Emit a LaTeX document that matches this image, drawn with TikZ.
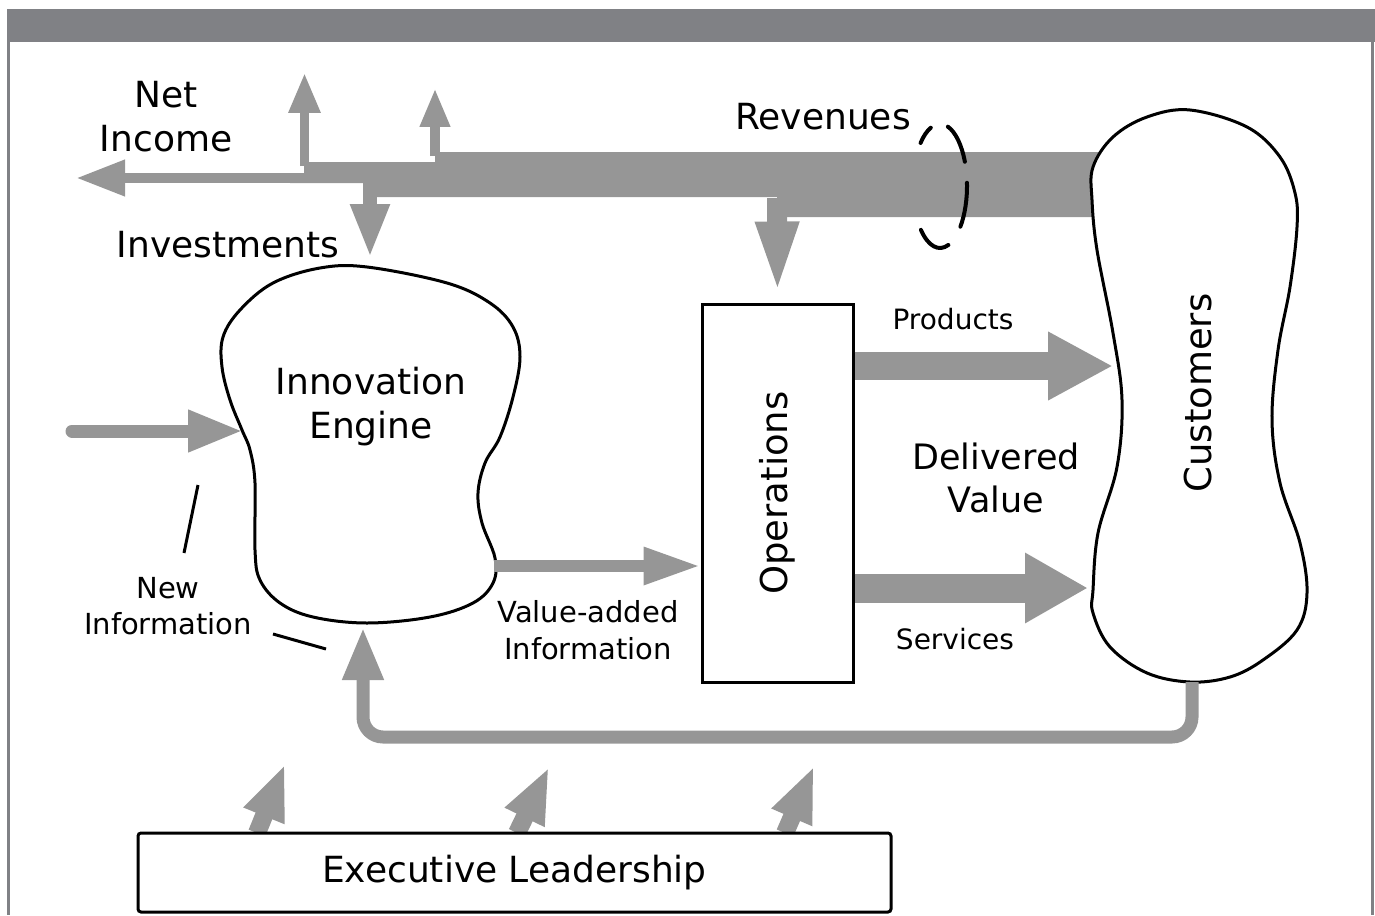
\documentclass[tikz,border=0pt]{standalone}
\usepackage{fontspec}
\usepackage{graphicx}
\setmainfont{DejaVu Sans}
\usetikzlibrary{arrows.meta,calc}
\definecolor{flowgray}{RGB}{150,150,150}
\definecolor{bargray}{RGB}{128,129,133}
\begin{document}
\begin{tikzpicture}[x=1pt,y=-1pt]
  \tikzstyle{blob}=[draw=black,line width=3pt,fill=white]
  \tikzstyle{boxed}=[draw=black,line width=3pt,fill=white,inner sep=0pt]
  \tikzstyle{biglab}=[font=\fontsize{36}{44}\selectfont,align=center,inner sep=0pt]
  \tikzstyle{midlab}=[font=\fontsize{29}{36.5}\selectfont,align=center,inner sep=0pt]
  \tikzstyle{smalllab}=[font=\fontsize{28}{34}\selectfont,inner sep=0pt]
  \tikzstyle{flow}=[draw=flowgray]
  \tikzstyle{pointer}=[draw=black,line width=3pt]
  \tikzstyle{dashring}=[draw=black,line width=4pt,line cap=round]
  \useasboundingbox (0,0) rectangle (1375,915);
  \fill[bargray] (7,9) rectangle (1375,42);
  \draw[bargray,line width=3pt] (8.5,42) -- (8.5,915);
  \draw[bargray,line width=3pt] (1372.5,42) -- (1372.5,915);

  % revenue stream
  \fill[flowgray] (1100,152) -- (435,152) -- (435,162) -- (304,162) -- (304,173)
    -- (290,173) -- (290,183) -- (363,183) -- (363,197) -- (777,197) -- (777,217)
    -- (1100,217) -- cycle;
  \coordinate (up1) at (304.5,73);
  \coordinate (up2) at (435,88);
  \coordinate (ni) at (76,178);
  \coordinate (ieN) at (370,258);
  \draw[flow,line width=9pt,-{Triangle[length=40pt,width=30pt]}] (304.5,166) -- (up1);
  \draw[flow,line width=10pt,-{Triangle[length=39pt,width=28pt]}] (435,156) -- (up2);
  \draw[flow,line width=10pt,-{Triangle[length=49pt,width=34pt]}] (296,178) -- (ni);
  \draw[flow,line width=14pt,-{Triangle[length=54pt,width=36pt]}] (370,186) -- (ieN);

  \node[biglab] (netinc) at (166,117) {Net\\Income};
  \node[biglab] (invest) at (228,245) {Investments};
  \node[biglab] (revenue) at (823,117) {Revenues};

  \coordinate (ring) at (940,186);
  \draw[dashring] ($(ring)+(136:27pt and 62pt)$) arc[start angle=136,end angle=110,x radius=27pt,y radius=62pt];
  \draw[dashring] ($(ring)+(73:27pt and 62pt)$) arc[start angle=73,end angle=23,x radius=27pt,y radius=62pt];
  \draw[dashring] ($(ring)+(3:27pt and 62pt)$) arc[start angle=3,end angle=-41,x radius=27pt,y radius=62pt];
  \draw[dashring] ($(ring)+(-135:27pt and 62pt)$) arc[start angle=-135,end angle=-72,x radius=27pt,y radius=62pt];

  % innovation engine
  \draw[blob] plot[smooth cycle,tension=0.6] coordinates {(367,267) (447,283) (490,303)
    (513,327) (520,357) (513,397) (500,437) (485,463) (478,493) (482,523) (495,558)
    (493,583) (473,603) (430,617) (367,623) (313,617) (280,603) (260,580) (255,550)
    (255,483) (250,450) (242,430) (230,400) (222,367) (223,337) (240,310) (273,283)
    (320,268)};
  \node[biglab] (innov) at (371,407) {Innovation\\Engine};
  \coordinate (ieW) at (243,431);
  \coordinate (ieE) at (494,566);
  \coordinate (ieS) at (363,627);

  % customers
  \draw[blob] plot[smooth cycle,tension=0.6] coordinates {(1190,110) (1247,127) (1280,157)
    (1295,193) (1297,227) (1290,287) (1278,350) (1272,420) (1280,483) (1300,543)
    (1307,593) (1297,630) (1263,660) (1230,677) (1190,682) (1147,673) (1110,647)
    (1093,613) (1093,590) (1098,533) (1117,467) (1122,400) (1113,333) (1097,250)
    (1092,200) (1093,167) (1113,137) (1147,117)};
  \node[biglab,rotate=90,font=\fontsize{37}{44}\selectfont] (cust) at (1198,393) {Customers};
  \coordinate (cuP) at (1113,366);
  \coordinate (cuV) at (1088,588);
  \coordinate (cuS) at (1192,682);

  % operations
  \node[boxed,minimum width=151pt,minimum height=378pt,font=\fontsize{37}{44}\selectfont] (ops) at (777.5,493) {\rotatebox{90}{Operations}};
  \draw[flow,line width=20pt,-{Triangle[length=75pt,width=38pt]}] (777,198) -- ([yshift=6pt]ops.north);
  \draw[flow,line width=12pt,-{Triangle[length=57pt,width=35pt]}] (ieE) -- (ieE -| ops.west);
  \draw[flow,line width=28pt,-{Triangle[length=65pt,width=64pt]}] (cuP -| ops.east) -- (cuP);
  \draw[flow,line width=29pt,-{Triangle[length=63pt,width=66pt]}] (cuV -| ops.east) -- (cuV);
  \node[smalllab] (prod) at (953,319) {Products};
  \node[smalllab] (serv) at (955,639) {Services};
  \node[biglab,font=\fontsize{35}{43}\selectfont] (delval) at (996,478) {Delivered\\Value};
  \node[midlab] (vainfo) at (588,630) {Value-added\\Information};

  % new information
  \coordinate (nisrc) at (72,431);
  \draw[flow,line width=13pt,line cap=round,-{Triangle[length=55pt,width=39pt]}] (nisrc) -- (ieW);
  \node[midlab] (newinfo) at (168,606) {New\\Information};
  \coordinate (ptA) at (198,485);
  \coordinate (ptB) at (184,553);
  \coordinate (ptC) at (273,634);
  \coordinate (ptD) at (326,649);
  \draw[pointer] (ptA) -- (ptB);
  \draw[pointer] (ptC) -- (ptD);

  % feedback
  \draw[flow,line width=13pt,rounded corners=20pt,-{Triangle[length=53pt,width=38pt]}] (cuS) -- ++(0,55) -| (ieS);

  % leadership
  \coordinate (e1) at (257,833);
  \coordinate (e2) at (517,833);
  \coordinate (e3) at (785,833);
  \coordinate (t1) at (285,764);
  \coordinate (t2) at (549,767);
  \coordinate (t3) at (814,766);
  \draw[flow,line width=18pt,-{Triangle[length=56pt,width=40pt]}] (e1) -- (t1);
  \draw[flow,line width=18pt,-{Triangle[length=56pt,width=40pt]}] (e2) -- (t2);
  \draw[flow,line width=18pt,-{Triangle[length=56pt,width=40pt]}] (e3) -- (t3);
  \node[boxed,rounded corners=3pt,minimum width=753pt,minimum height=79pt,font=\fontsize{36}{44}\selectfont] (exec) at (514.5,872.5) {Executive Leadership};
\end{tikzpicture}
\end{document}
